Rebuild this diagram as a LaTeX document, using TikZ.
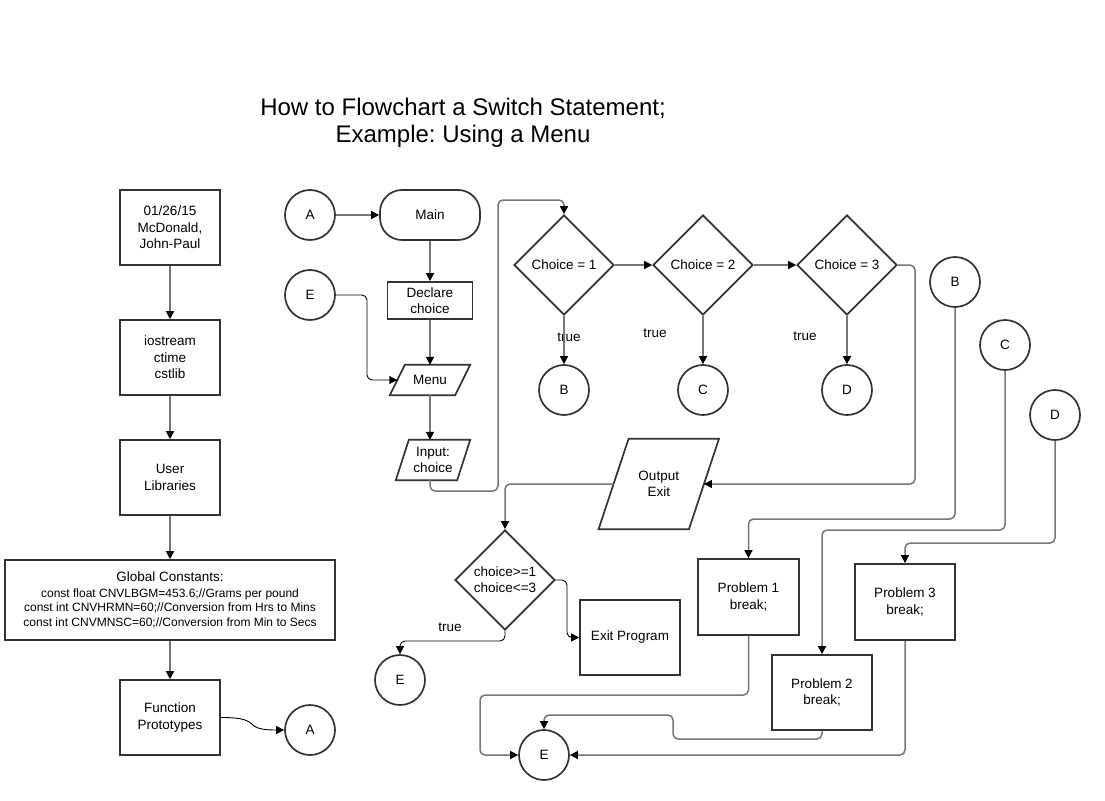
\documentclass[tikz,border=0pt]{standalone}
\usepackage{fontspec}
\setmainfont{Liberation Sans}
\usetikzlibrary{shapes.geometric,arrows.meta,calc}
\definecolor{shpc}{HTML}{333333}
\definecolor{conc}{HTML}{777777}
\newcommand\paral[2]{\draw[shp] ([xshift=-#2]#1.south west) -- ([xshift=#2]#1.north west) -- ([xshift=#2]#1.north east) -- ([xshift=-#2]#1.south east) -- cycle;}
\frenchspacing
\begin{document}
\begin{tikzpicture}[x=1pt,y=-1pt,
  every node/.style={font=\fontsize{13.5}{16.5}\selectfont, align=center, inner sep=0pt},
  shp/.style={draw=shpc, line width=1.7},
  box/.style={shp, rectangle, minimum width=100, minimum height=75},
  circ/.style={shp, circle, minimum size=50},
  dia/.style={shp, diamond, minimum width=100, minimum height=100},
  para/.style={rectangle},
  tip/.style={-{Triangle[length=8,width=8,color=black]}},
  conn/.style={draw=conc, line width=1.5, rounded corners=5, tip},
  tconn/.style={draw=black, line width=0.9, rounded corners=5, tip},
  lbl/.style={font=\fontsize{13.5}{15}\selectfont}
]
\useasboundingbox (0,0) rectangle (1105,800);
\fill[white] (0,0) rectangle (1105,800);

% title
\node[font=\fontsize{24}{27}\selectfont] (title) at (463,123) {How to Flowchart a Switch Statement;\\Example: Using a Menu};

% left column
\node[box] (hdr) at (170,227.5) {01/26/15\\McDonald,\\John-Paul};
\node[box] (lib) at (170,357.5) {iostream\\ctime\\cstlib};
\node[box] (usr) at (170,477.5) {User\\Libraries};
\node[box, minimum width=330, minimum height=80] (glob) at (170,600) {Global Constants:\\[-1pt]
  {\fontsize{12}{14}\selectfont const float CNVLBGM=453.6;//Grams per pound}\\[-2pt]
  {\fontsize{12}{14}\selectfont const int CNVHRMN=60;//Conversion from Hrs to Mins}\\[-2pt]
  {\fontsize{12}{14}\selectfont const int CNVMNSC=60;//Conversion from Min to Secs}};
\node[box] (fun) at (170,717.5) {Function\\Prototypes};
\node[circ] (a2) at (310,730) {A};

\draw[conn] (hdr) -- (lib);
\draw[conn] (lib) -- (usr);
\draw[conn] (usr) -- (glob);
\draw[conn] (glob) -- (fun);
\draw[tconn] (fun.east) .. controls +(45,0) and +(-45,0) .. (a2.west);

% middle column
\node[circ] (a1) at (310,215) {A};
\node[shp, rectangle, rounded corners=22, minimum width=100, minimum height=50] (main) at (430,215) {Main};
\node[circ] (e1) at (310,295) {E};
\node[box, minimum width=85, minimum height=37] (decl) at (430,300.5) {Declare\\choice};
\node[para, minimum width=65, minimum height=30] (menu) at (430,380) {Menu};
\paral{menu}{7.5}
\node[para, minimum width=61, minimum height=40] (inp) at (433,460) {Input:\\choice};
\paral{inp}{6.5}

\draw[conn] (a1) -- (main);
\draw[conn] (main) -- (decl);
\draw[conn] (decl) -- (menu);
\draw[conn] (menu.south) -- (menu.south |- inp.north);
\draw[tconn] (e1.east) -- (367,295) -- (367,380) -- (menu.west);

% decisions
\node[dia] (c1) at (564,265) {Choice = 1};
\node[dia] (c2) at (703,265) {Choice = 2};
\node[dia] (c3) at (847,265) {Choice = 3};
\node[circ] (b1) at (564,390) {B};
\node[circ] (cc1) at (703,390) {C};
\node[circ] (d1) at (847,390) {D};
\node[lbl] (t1) at (569,337) {true};
\node[lbl] (t2) at (655,333) {true};
\node[lbl] (t3) at (805,336) {true};

\draw[conn] (menu.south |- inp.south) -- (430,491) -- (498,491) -- (498,200) -- (564,200) -- (c1.north);
\draw[conn] (c1) -- (c2);
\draw[conn] (c2) -- (c3);
\draw[conn] (c1) -- (b1);
\draw[conn] (c2) -- (cc1);
\draw[conn] (c3) -- (d1);

% output exit
\node[para, minimum width=90, minimum height=90] (out) at (658.75,484) {Output\\Exit};
\paral{out}{15}
\draw[conn] (c3.east) -- (915,265) -- (915,484) -- (out.east);

% check diamond
\node[dia, font=\fontsize{13.5}{16}\selectfont] (ck) at (505,580) {choice>=1\\choice<=3};
\node[box, minimum width=100, minimum height=75] (exitp) at (630,637.5) {Exit Program};
\node[circ] (e2) at (400,680) {E};
\node[lbl] (t4) at (450,627) {true};
\draw[conn] (out.west) -- (505,484) -- (ck.north);
\draw[tconn] (ck.east) -- (567,580) -- (567,637.5) -- (exitp.west);
\draw[tconn] (ck.south) -- (505,641) -- (400,641) -- (e2.north);

% right circles
\node[circ] (b2) at (955,282) {B};
\node[circ] (c2r) at (1005,345) {C};
\node[circ] (d2) at (1055,415) {D};

% problems
\node[box, minimum width=101, minimum height=76] (p1) at (748.5,597) {Problem 1\\break;};
\node[box, minimum width=100, minimum height=75] (p2) at (822,692.5) {Problem 2\\break;};
\node[box, minimum width=100, minimum height=76] (p3) at (905,602) {Problem 3\\break;};
\node[circ] (e3) at (544,755) {E};

\draw[conn] (b2.south) -- (955,519) -- (748.5,519) -- (p1.north);
\draw[conn] (c2r.south) -- (1005,530) -- (822,530) -- (p2.north);
\draw[conn] (d2.south) -- (1055,543) -- (905,543) -- (p3.north);

\draw[conn] (p1.south) -- (748.5,695) -- (480,695) -- (480,755) -- (e3.west);
\draw[conn] (p2.south) -- (822,739) -- (673,739) -- (673,715) -- (544,715) -- (e3.north);
\draw[conn] (p3.south) -- (905,755) -- (e3.east);
\end{tikzpicture}
\end{document}
